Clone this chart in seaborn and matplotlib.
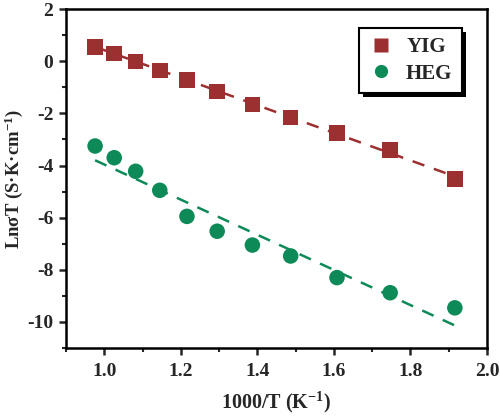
import numpy as np
import pandas as pd
import matplotlib
matplotlib.use("Agg")
import matplotlib.pyplot as plt
import matplotlib.patheffects as pe
import seaborn as sns
from matplotlib.ticker import MultipleLocator

# ---- data ----
inv_T = [0.976, 1.026, 1.082, 1.145, 1.216, 1.295, 1.387, 1.487, 1.608, 1.747, 1.916]
yig = [0.55, 0.30, 0.00, -0.35, -0.72, -1.15, -1.65, -2.15, -2.75, -3.40, -4.52]
heg = [-3.25, -3.70, -4.22, -4.95, -5.95, -6.52, -7.05, -7.47, -8.30, -8.88, -9.46]
series = ["YIG", "HEG"]
colors = {"YIG": "#9C2F2F", "HEG": "#0E8A58"}
markers = {"YIG": "s", "HEG": "o"}
xticks = [1.0, 1.2, 1.4, 1.6, 1.8, 2.0]
yticks = [2, 0, -2, -4, -6, -8, -10]

df = pd.DataFrame({
    "x": inv_T * 2,
    "y": yig + heg,
    "sample": ["YIG"] * len(inv_T) + ["HEG"] * len(inv_T),
})

sns.set_style("ticks")
plt.rcParams["font.family"] = ["Liberation Serif", "DejaVu Serif"]
plt.rcParams["font.weight"] = "bold"
plt.rcParams["axes.unicode_minus"] = False
plt.rcParams["mathtext.fontset"] = "custom"
plt.rcParams["mathtext.rm"] = "Liberation Serif:bold"
plt.rcParams["mathtext.bf"] = "Liberation Serif:bold"
plt.rcParams["mathtext.it"] = "Liberation Serif:bold"

fig = plt.figure(figsize=(5.0, 4.17), dpi=100)
ax = fig.add_axes([0.132, 0.1655, 0.842, 0.8125])

for s in series:
    sub = df[df["sample"] == s]
    sns.regplot(data=sub, x="x", y="y", ax=ax, scatter=False, ci=None,
                truncate=True, color=colors[s],
                line_kws=dict(linestyle=(0, (5, 4)), linewidth=1.8, zorder=2))

sns.scatterplot(data=df, x="x", y="y", hue="sample", style="sample",
                palette=colors, markers=markers, hue_order=series,
                style_order=series, s=125, edgecolor="none", ax=ax, zorder=3)

ax.set_xlim(0.9, 2.0)
ax.set_ylim(-11, 2)
ax.set_xticks(xticks)
ax.set_yticks(yticks)
ax.set_xticklabels([f"{v:.1f}" for v in xticks])
ax.set_yticklabels([str(v) for v in yticks])
ax.xaxis.set_minor_locator(MultipleLocator(0.1))
ax.yaxis.set_minor_locator(MultipleLocator(1))
ax.tick_params(axis="both", which="major", direction="out", length=5, width=1.8,
               labelsize=14, pad=6, top=False, right=False)
ax.tick_params(axis="y", which="major", pad=4)
ax.tick_params(axis="both", which="minor", direction="out", length=3, width=1.5,
               top=False, right=False)
for lab in ax.get_xticklabels() + ax.get_yticklabels():
    lab.set_fontweight("bold")
for sp in ax.spines.values():
    sp.set_visible(True)
    sp.set_linewidth(1.8)
    sp.set_color("black")

ax.set_xlabel("1000/T (K$^{-1}$)", fontsize=14.5, fontweight="bold", labelpad=7)
ax.set_ylabel("LnσT (S·K·cm$^{-1}$)", fontsize=13.5, fontweight="bold", labelpad=2)

handles, labels = ax.get_legend_handles_labels()
leg = ax.legend(handles, labels, loc="upper right", bbox_to_anchor=(0.965, 0.975),
                frameon=True, fancybox=False, framealpha=1, edgecolor="black",
                markerscale=0.85,
                prop={"family": "Liberation Serif", "weight": "bold", "size": 15},
                handletextpad=0.6, borderpad=0.45, labelspacing=0.3, handlelength=1.2)
frame = leg.get_frame()
frame.set_linewidth(1.5)
frame.set_path_effects([pe.SimplePatchShadow(offset=(3, -3), shadow_rgbFace="black",
                                             alpha=1.0), pe.Normal()])

fig.savefig("out.png", dpi=100)
